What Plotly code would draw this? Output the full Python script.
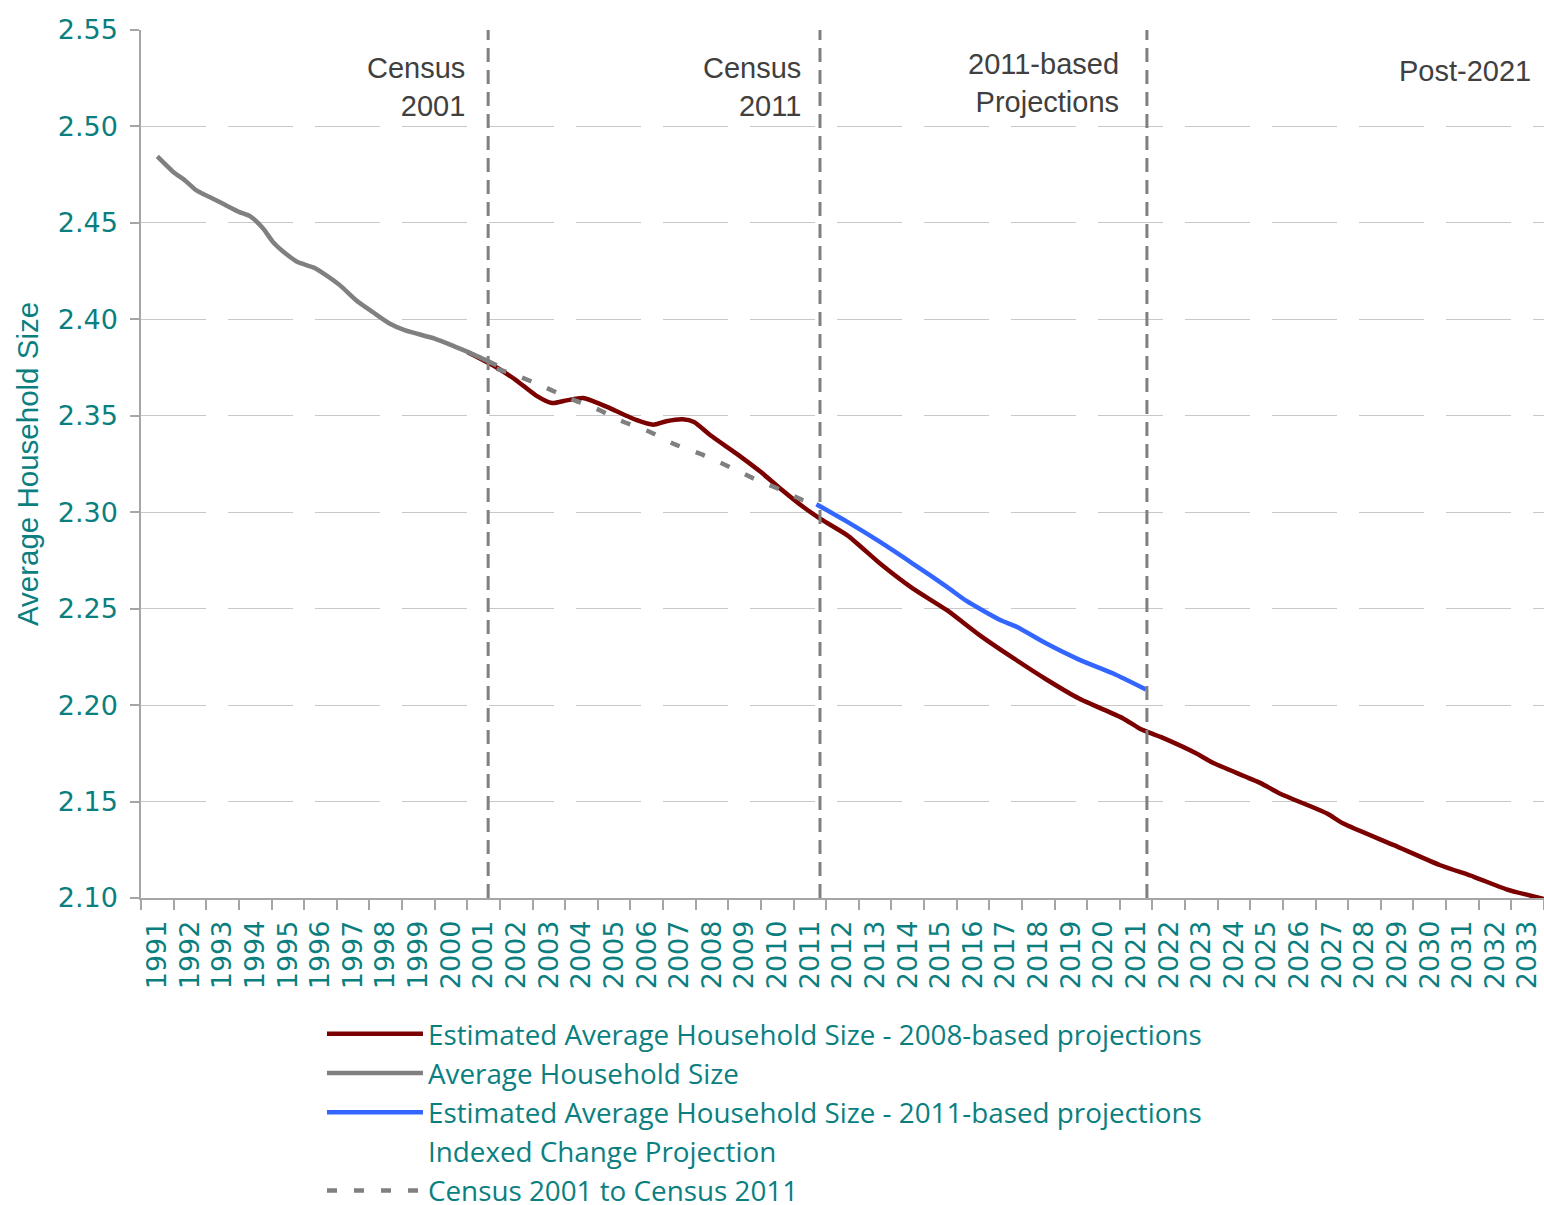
import plotly.graph_objects as go

# ---- data ----
years_labels = list(range(1991, 2034))

avg_x = [1991.0, 1991.5, 1991.85, 1992.2, 1992.6, 1993.0, 1993.5, 1993.85, 1994.25, 1994.55,
         1995.0, 1995.3, 1995.8, 1996.1, 1996.6, 1997.1, 1997.6, 1998.1, 1998.6, 1999.5,
         2000.1, 2000.6, 2001.4]
avg_y = [2.4845, 2.4763, 2.4720, 2.4668, 2.4634, 2.4600, 2.4557, 2.4534, 2.4470, 2.4400,
         2.4332, 2.4297, 2.4268, 2.4237, 2.4176, 2.4098, 2.4038, 2.3980, 2.3943, 2.3900,
         2.3860, 2.3825, 2.3762]

est08_x = [2000.5, 2001.4, 2002.0, 2002.6, 2003.1, 2003.55, 2004.05, 2004.35, 2004.8, 2005.7,
           2006.2, 2006.6, 2007.1, 2007.45, 2007.95, 2008.75, 2009.5, 2010.1, 2010.8, 2011.3,
           2012.15, 2013.15, 2014.15, 2015.2, 2016.2, 2017.25, 2018.25, 2019.25, 2020.6, 2021.1,
           2021.75, 2022.85, 2023.35, 2024.8, 2025.4, 2026.85, 2027.35, 2028.9, 2030.3, 2031.35,
           2032.35, 2033.5]
est08_y = [2.3830, 2.3750, 2.3684, 2.3606, 2.3566, 2.3580, 2.3592, 2.3576, 2.3545, 2.3477,
           2.3454, 2.3472, 2.3482, 2.3468, 2.3399, 2.3304, 2.3208, 2.3122, 2.3027, 2.2968,
           2.2880, 2.2734, 2.2605, 2.2492, 2.2363, 2.2242, 2.2133, 2.2034, 2.1931, 2.1879,
           2.1835, 2.1749, 2.1701, 2.1597, 2.1542, 2.1438, 2.1386, 2.1274, 2.1171, 2.1110,
           2.1045, 2.0995]

est11_x = [2011.2, 2012.15, 2013.15, 2014.15, 2015.2, 2015.8, 2016.8, 2017.35, 2018.25, 2019.25,
           2020.3, 2021.3]
est11_y = [2.3041, 2.2950, 2.2846, 2.2734, 2.2613, 2.2540, 2.2444, 2.2405, 2.2319, 2.2236,
           2.2164, 2.2081]

census_x = [2001.4, 2002.0, 2002.85, 2003.65, 2004.45, 2005.3, 2006.1, 2006.8, 2007.75, 2008.55,
            2009.35, 2010.1, 2010.8, 2011.2]
census_y = [2.3744, 2.3710, 2.3650, 2.3589, 2.3537, 2.3468, 2.3416, 2.3356, 2.3295, 2.3234,
            2.3169, 2.3117, 2.3062, 2.3045]

period_markers = [2001.14, 2011.31, 2021.33]
period_labels = ["Census<br>2001", "Census<br>2011", "2011-based<br>Projections", "Post-2021"]
period_label_x = [2000.49, 2010.79, 2020.54, 2033.17]
period_label_y = [2.5207, 2.5207, 2.5223, 2.5290]

y_ticks = [2.10, 2.15, 2.20, 2.25, 2.30, 2.35, 2.40, 2.45, 2.50, 2.55]

TEAL = "#0B7F7F"
TXT = "Liberation Sans"
LEGF = "Open Sans"
NUMF = "DejaVu Sans"

fig = go.Figure()
fig.add_trace(go.Scatter(x=est08_x, y=est08_y, mode="lines", name="Estimated Average Household Size - 2008-based projections",
                         line=dict(color="#7B0000", width=4.5, shape="spline", smoothing=0.6)))
fig.add_trace(go.Scatter(x=avg_x, y=avg_y, mode="lines", name="Average Household Size",
                         line=dict(color="#808080", width=4.5, shape="spline", smoothing=0.6)))
fig.add_trace(go.Scatter(x=est11_x, y=est11_y, mode="lines", name="Estimated Average Household Size - 2011-based projections",
                         line=dict(color="#3366FF", width=4.5, shape="spline", smoothing=0.6)))
fig.add_trace(go.Scatter(x=[None], y=[None], mode="lines", name="Indexed Change Projection",
                         line=dict(color="rgba(0,0,0,0)", width=4)))
fig.add_trace(go.Scatter(x=census_x, y=census_y, mode="lines", name="Census 2001 to Census 2011",
                         line=dict(color="#808080", width=4.5, dash="10px,17px", shape="spline", smoothing=0.6)))

for xm in period_markers:
    fig.add_shape(type="line", xref="x", yref="y", x0=xm, x1=xm, y0=y_ticks[0], y1=y_ticks[-1],
                  line=dict(color="#808080", width=3, dash="14px,8px"), layer="above")

for t, xa, ya in zip(period_labels, period_label_x, period_label_y):
    fig.add_annotation(x=xa, y=ya, xref="x", yref="y", text=t, showarrow=False, xanchor="right",
                       yanchor="middle", align="right", font=dict(family=TXT, size=29, color="#404040"))

fig.update_layout(
    width=1544, height=1205,
    margin=dict(l=141, r=0, t=30, b=307, autoexpand=False),
    paper_bgcolor="white", plot_bgcolor="white",
    showlegend=True,
    legend=dict(x=0.129, y=-0.1282, xanchor="left", yanchor="top",
                orientation="v", font=dict(family=LEGF, size=27.8, color=TEAL), itemwidth=96,
                bgcolor="rgba(0,0,0,0)", tracegroupgap=0),
)

fig.update_xaxes(
    range=[1990.5, 2033.5], tickmode="array", tickvals=years_labels,
    ticktext=[str(y) for y in years_labels], tickangle=-90,
    tickfont=dict(family=NUMF, size=27, color=TEAL), ticks="", ticklabelstandoff=10,
    showline=True, linecolor="#A6A6A6", linewidth=1.5, showgrid=False, zeroline=False,
    minor=dict(ticks="outside", tick0=1990.5, dtick=1, ticklen=10, tickcolor="#A6A6A6", tickwidth=1.5, showgrid=False),
    automargin=False,
)
fig.update_yaxes(
    range=[2.10, 2.55], tickmode="array", tickvals=y_ticks,
    ticktext=[f"{v:.2f}" for v in y_ticks],
    tickfont=dict(family=NUMF, size=27, color=TEAL), ticks="outside", ticklen=9,
    tickcolor="#A6A6A6", tickwidth=1.5, ticklabelstandoff=7,
    showline=True, linecolor="#A6A6A6", linewidth=1.5,
    showgrid=True, gridcolor="#C8C8C8", gridwidth=1.3, griddash="65px,22px", zeroline=False,
    title=dict(text="Average Household Size", font=dict(family=TXT, size=29.5, color=TEAL), standoff=10),
    automargin=False,
)

fig.write_html("out.html", config={"displayModeBar": False},
               post_script="document.body.style.margin='0';document.body.style.padding='0';document.body.style.overflow='hidden';")
